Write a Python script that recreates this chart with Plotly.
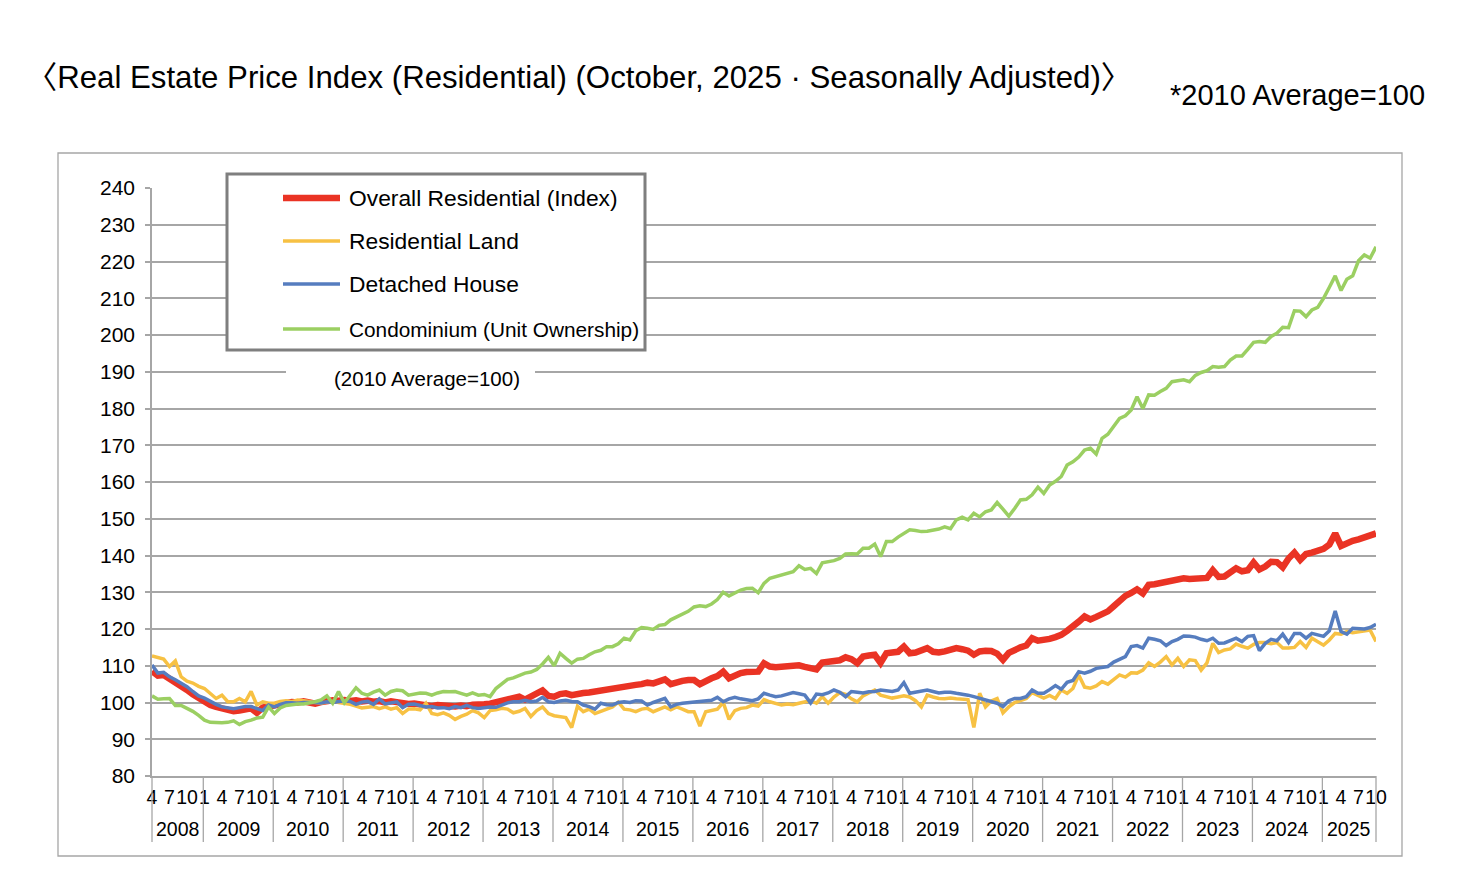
import plotly.graph_objects as go

# ---------------- data (monthly, Apr 2008 - Oct 2025) ----------------
years = list(range(2008, 2026))
month_tick_labels = ["1", "4", "7", "10"]

overall = [
    108.5, 107.3, 107.5, 106.6, 105.6, 104.6, 103.4, 102.2, 101.2,
    100.2, 99.3, 98.8, 98.3, 97.9, 97.6, 97.8, 98.3, 98.4, 97.2, 98.6, 98.9,
    99.3, 99.6, 99.9, 100.1, 100.0, 100.3, 100.0, 99.7, 100.1, 100.4, 100.6, 100.5,
    100.7, 100.4, 100.6, 100.3, 100.5, 100.2, 100.4, 100.0, 100.3, 100.1, 99.8, 99.6,
    99.7, 99.5, 99.2, 99.0, 99.3, 99.1, 98.8, 98.9, 99.2, 99.0, 99.4, 99.3,
    99.5, 99.7, 100.0, 100.4, 100.8, 101.2, 101.6, 100.8, 101.8, 102.5, 103.3, 101.8,
    101.6, 102.3, 102.5, 102.0, 102.4, 102.6, 102.7, 103.0, 103.2, 103.6, 104.0, 104.3,
    104.3, 104.6, 104.8, 105.0, 105.4, 105.2, 105.8, 106.3, 105.0, 105.6, 105.9, 106.1,
    106.1, 105.0, 106.0, 106.6, 107.2, 108.4, 106.6, 107.5, 108.0, 108.3, 108.2, 108.4,
    110.7, 109.8, 109.6, 109.7, 109.9, 110.2, 110.1, 109.7, 109.3, 109.0, 110.9, 111.0,
    111.0, 111.5, 112.3, 111.8, 110.7, 112.5, 112.8, 113.0, 110.8, 113.4, 113.6, 113.8,
    115.2, 113.4, 113.6, 114.0, 114.8, 113.8, 113.6, 113.9, 114.4, 114.8, 114.5, 114.1,
    113.0, 113.9, 114.1, 114.0, 113.3, 111.6, 113.5, 114.5, 115.0, 115.5, 117.5, 116.8,
    116.9, 117.3, 117.8, 118.4, 119.5, 120.6, 122.0, 123.4, 122.6, 123.3, 124.0, 124.8,
    126.2, 127.8, 129.0, 129.8, 130.8, 129.7, 132.0, 132.2, 132.6, 133.0, 133.4, 133.8,
    133.8, 133.6, 133.8, 134.0, 133.9, 136.0, 134.2, 134.3, 135.4, 136.5, 135.7, 136.0,
    138.1, 136.2, 137.0, 138.3, 138.2, 136.8, 139.2, 140.8, 138.8, 140.4, 140.8, 141.3,
    141.8, 143.0, 146.0, 142.6, 143.5, 144.0, 144.4, 145.0, 145.6, 146.0,
]

land = [
    112.7, 112.2, 111.8, 109.8, 111.3, 107.0, 105.8, 105.3, 104.4,
    103.8, 102.5, 101.1, 102.0, 100.2, 100.2, 101.1, 100.2, 103.0, 99.3, 100.2, 99.8,
    99.8, 100.3, 100.5, 100.2, 100.7, 100.5, 100.2, 100.0, 99.8, 100.1, 100.3, 100.0,
    99.8, 99.5, 99.0, 98.5, 98.7, 98.9, 98.3, 98.8, 98.2, 98.6, 97.0, 98.2,
    98.3, 98.0, 99.8, 97.0, 96.7, 97.2, 96.5, 95.4, 96.2, 96.8, 97.8, 97.2,
    95.9, 97.8, 98.0, 98.4, 98.2, 97.2, 97.6, 98.4, 96.2, 97.8, 98.8, 97.0,
    96.4, 96.2, 95.9, 93.2, 99.0, 97.5, 98.2, 97.0, 97.6, 98.0, 98.8, 100.1,
    98.2, 98.0, 97.5, 98.2, 98.4, 97.5, 98.2, 98.8, 98.0, 98.8, 98.2, 97.5,
    97.5, 93.6, 97.5, 97.8, 98.2, 100.0, 95.4, 97.8, 98.4, 98.6, 99.3, 99.0,
    100.8, 100.2, 99.8, 99.3, 99.6, 99.4, 99.8, 100.2, 100.5, 99.8, 101.6, 99.8,
    101.5, 102.7, 102.2, 101.0, 100.2, 101.8, 102.5, 103.4, 102.0, 101.6, 101.2, 101.5,
    101.8, 101.5, 100.5, 98.8, 102.0, 101.5, 101.1, 101.0, 101.2, 101.0, 101.0, 100.8,
    93.2, 102.5, 98.8, 100.4, 101.1, 97.2, 98.8, 100.0, 100.5, 101.1, 102.7, 101.9,
    101.2, 101.9, 101.1, 103.4, 102.5, 103.8, 107.5, 104.2, 103.9, 104.5, 105.7, 105.0,
    106.3, 107.5, 106.9, 108.1, 108.0, 108.8, 110.8, 109.8, 111.0, 112.5, 110.2, 112.0,
    109.8, 111.6, 111.4, 108.8, 110.8, 116.1, 113.6, 114.3, 114.6, 115.9, 115.3, 114.8,
    115.8, 116.3, 116.3, 116.0, 116.3, 114.8, 114.8, 115.0, 116.6, 115.0, 117.5, 116.6,
    115.6, 117.0, 118.8, 118.6, 119.3, 119.0, 119.2, 119.3, 119.7, 116.6,
]

house = [
    110.2, 108.0, 108.2, 107.0, 106.2, 105.3, 104.3, 103.0, 101.8,
    101.2, 100.3, 99.5, 98.8, 98.5, 98.3, 98.6, 98.9, 98.9, 98.4, 97.8, 99.3,
    98.8, 99.5, 99.9, 99.9, 99.8, 100.0, 100.1, 100.0, 99.9, 100.2, 100.0, 100.2,
    100.5, 100.3, 99.5, 100.1, 100.3, 99.5, 101.0, 99.6, 99.9, 100.2, 98.6, 99.5,
    99.6, 99.2, 98.8, 98.9, 98.5, 98.6, 98.3, 98.9, 98.6, 99.2, 98.6, 98.4,
    98.6, 98.8, 98.7, 99.3, 99.9, 100.2, 100.2, 100.6, 100.2, 100.4, 101.4, 100.2,
    100.0, 100.4, 100.6, 100.3, 100.2, 99.3, 98.9, 98.2, 99.8, 99.4, 99.3, 100.0,
    100.2, 100.0, 100.5, 100.4, 99.3, 100.0, 100.5, 101.1, 98.8, 99.5, 99.8, 100.0,
    100.2, 100.4, 100.5, 100.6, 101.4, 100.2, 101.0, 101.4, 101.0, 100.8, 100.5, 101.0,
    102.5, 102.0, 101.6, 101.8, 102.2, 102.7, 102.4, 102.0, 99.9, 102.3, 102.1, 102.6,
    103.4, 102.8, 101.6, 103.0, 102.8, 102.6, 102.9, 103.0, 103.4, 103.2, 103.0, 103.4,
    105.4, 102.5, 102.8, 103.0, 103.4, 103.0, 102.6, 102.8, 102.8, 102.5, 102.3, 102.0,
    101.6, 101.2, 100.6, 100.4, 99.8, 98.9, 100.5, 101.1, 101.1, 101.6, 103.4, 102.5,
    102.5, 103.5, 104.6, 103.6, 105.5, 106.0, 108.4, 108.0, 108.5, 109.3, 109.5, 109.8,
    111.0, 111.8, 112.5, 115.2, 115.5, 114.8, 117.5, 117.2, 116.8, 115.5, 116.6, 117.2,
    118.1, 118.0, 117.8, 117.2, 116.8, 117.5, 116.1, 116.2, 116.8, 117.5, 116.6, 118.0,
    118.2, 114.1, 116.1, 117.2, 116.8, 118.6, 116.3, 118.8, 118.8, 117.5, 118.8, 118.5,
    118.0, 119.5, 124.9, 119.3, 118.6, 120.2, 120.0, 120.0, 120.4, 121.3,
]

condo = [
    101.8, 100.9, 101.0, 101.1, 99.2, 99.2, 98.4, 97.6, 96.5,
    95.2, 94.6, 94.5, 94.5, 94.6, 95.0, 94.0, 94.8, 95.2, 95.8, 96.0, 98.8,
    97.0, 98.5, 99.2, 99.5, 99.6, 99.6, 99.8, 100.2, 100.7, 101.8, 99.8, 103.0,
    99.9, 102.0, 104.0, 102.5, 102.0, 102.8, 103.4, 102.0, 103.0, 103.4, 103.2, 102.0,
    102.4, 102.6, 102.5, 102.0, 102.6, 103.0, 102.9, 103.0, 102.5, 102.0, 102.6, 102.0,
    102.2, 101.6, 103.8, 105.2, 106.3, 106.7, 107.4, 108.0, 108.3, 109.0, 110.5, 112.3,
    110.0, 113.4, 112.0, 110.7, 111.8, 112.0, 113.0, 113.8, 114.2, 115.2, 115.2, 116.0,
    117.5, 117.0, 119.5, 120.4, 120.2, 119.9, 121.0, 121.2, 122.5, 123.2, 124.0, 124.8,
    126.0, 126.3, 126.1, 126.8, 128.0, 130.0, 129.0, 129.8, 130.6, 131.0, 131.1, 129.9,
    132.4, 133.8, 134.2, 134.8, 135.2, 135.6, 137.2, 136.2, 136.5, 135.1, 138.0, 138.2,
    138.6, 139.2, 140.4, 140.5, 140.4, 142.0, 142.0, 143.1, 139.7, 143.8, 143.8, 145.0,
    146.0, 147.0, 146.8, 146.5, 146.6, 146.9, 147.2, 147.8, 147.3, 149.7, 150.4, 149.7,
    151.5, 150.5, 151.9, 152.4, 154.4, 152.6, 150.7, 152.8, 155.1, 155.3, 156.5, 158.6,
    156.9, 159.2, 160.2, 161.5, 164.6, 165.5, 166.8, 168.7, 169.2, 167.6, 171.9, 173.0,
    175.0, 177.3, 178.0, 179.6, 183.2, 180.0, 183.7, 183.6, 184.6, 185.5, 187.3, 187.6,
    187.8, 187.3, 189.0, 189.8, 190.3, 191.4, 191.2, 191.4, 193.2, 194.3, 194.3, 196.1,
    198.0, 198.2, 198.0, 199.6, 200.5, 202.1, 202.0, 206.6, 206.5, 205.0, 206.8, 207.5,
    210.0, 213.0, 216.1, 212.1, 215.2, 216.1, 220.2, 221.8, 220.9, 224.0,
]

series_names = ["Overall Residential (Index)", "Residential Land",
                "Detached House", "Condominium (Unit Ownership)"]
series_colors = ["#ea3324", "#f7c143", "#567dbf", "#9bcf62"]
series_widths = [6.5, 3.5, 3.5, 3.5]

# month index axis: 0 = April 2008
n = len(overall)
xs = list(range(n))
months = [(3 + i) % 12 + 1 for i in xs]

# ---------------- geometry helpers (page pixels -> paper) ----------------
OFF = 8
W, H = 1445, 876
ML, MT, PW, PH = 144, 180, 1224, 588
MR, MB = W - ML - PW, H - MT - PH


def px(xr):
    return (xr - OFF - ML) / PW


def py(yr):
    return 1 - (yr - OFF - MT) / PH


NARROW = "Liberation Sans Narrow, Arial Narrow, Liberation Sans, sans-serif"
SANS = "Liberation Sans, Arial, Noto Sans CJK JP, sans-serif"
GRID = "#a6a6a6"

fig = go.Figure()
for vals, name, col, lw in zip([overall, land, house, condo], series_names,
                               series_colors, series_widths):
    fig.add_trace(go.Scatter(x=xs, y=vals, mode="lines", name=name,
                             line=dict(color=col, width=lw), showlegend=False,
                             hoverinfo="skip"))

tickvals = [i for i in xs if str(months[i]) in month_tick_labels]
ticktext = [str(months[i]) for i in tickvals]

fig.update_layout(
    width=W, height=H,
    margin=dict(l=ML, r=MR, t=MT, b=MB, autoexpand=False),
    paper_bgcolor="white", plot_bgcolor="white",
    font=dict(family=SANS, color="black"),
    xaxis=dict(range=[0, n - 1], showgrid=False, zeroline=False,
               showline=True, linecolor=GRID, linewidth=1.5,
               tickmode="array", tickvals=tickvals, ticktext=ticktext,
               tickangle=0, ticks="", ticklabelstandoff=3,
               tickfont=dict(family=NARROW, size=19.5, color="black")),
    yaxis=dict(range=[80, 240], tick0=80, dtick=10, showgrid=True,
               gridcolor=GRID, gridwidth=1.5, zeroline=False,
               showline=True, linecolor=GRID, linewidth=1.5,
               ticks="outside", ticklen=5, tickcolor=GRID, tickwidth=1.5,
               ticklabelstandoff=6,
               tickfont=dict(family=NARROW, size=21, color="black")),
)

shapes = []
annotations = []

# outer chart border
shapes.append(dict(type="rect", xref="paper", yref="paper",
                   x0=px(58), x1=px(1402), y0=py(153), y1=py(856),
                   line=dict(color=GRID, width=1.3), layer="below"))

# year separators and labels
def first_index(y):
    return 0 if y == 2008 else 9 + 12 * (y - 2009)

bounds = [0] + [first_index(y) - 0.2 for y in years[1:]] + [n - 1]
for b in bounds:
    shapes.append(dict(type="line", xref="paper", yref="paper",
                       x0=b / (n - 1), x1=b / (n - 1), y0=0, y1=py(842),
                       line=dict(color=GRID, width=1.3)))
for k, y in enumerate(years):
    c = (bounds[k] + bounds[k + 1]) / 2
    annotations.append(dict(x=c, y=py(829), xref="x", yref="paper",
                            text=str(y), showarrow=False,
                            font=dict(family=NARROW, size=19.5, color="black"),
                            xanchor="center", yanchor="middle"))

# legend box
shapes.append(dict(type="rect", xref="paper", yref="paper",
                   x0=px(227), x1=px(645), y0=py(174), y1=py(350),
                   line=dict(color="#7f7f7f", width=3), fillcolor="white",
                   layer="above"))
leg_y = [198, 241, 284, 329]
leg_size = [22.8, 22.8, 22.8, 20.8]
for name, col, lw, ly, fs in zip(series_names, series_colors, series_widths,
                                  leg_y, leg_size):
    shapes.append(dict(type="line", xref="paper", yref="paper",
                       x0=px(283), x1=px(340), y0=py(ly), y1=py(ly),
                       line=dict(color=col, width=lw), layer="above"))
    annotations.append(dict(x=px(347), y=py(ly), xref="paper", yref="paper",
                            text=name, showarrow=False, xanchor="left",
                            yanchor="middle",
                            font=dict(family=SANS, size=fs, color="black")))

# (2010 Average=100) note inside plot, on a white patch over the gridline
shapes.append(dict(type="rect", xref="paper", yref="paper",
                   x0=px(286), x1=px(535), y0=py(365), y1=py(392),
                   line=dict(width=0), fillcolor="white", layer="above"))
annotations.append(dict(x=px(427), y=py(378), xref="paper", yref="paper",
                        text="(2010 Average=100)", showarrow=False,
                        xanchor="center", yanchor="middle",
                        font=dict(family=SANS, size=20.5, color="black")))

# titles
annotations.append(dict(x=px(24), y=py(78), xref="paper", yref="paper",
                        text="\u3008Real Estate Price Index (Residential) (October, 2025 \u00b7 Seasonally Adjusted)\u3009",
                        showarrow=False, xanchor="left", yanchor="middle",
                        font=dict(family=SANS, size=31.2, color="black")))
annotations.append(dict(x=px(1427), y=py(95), xref="paper", yref="paper",
                        text="*2010 Average=100", showarrow=False,
                        xanchor="right", yanchor="middle",
                        font=dict(family=SANS, size=29, color="black")))

fig.update_layout(shapes=shapes, annotations=annotations)
fig.write_html("out.html")
